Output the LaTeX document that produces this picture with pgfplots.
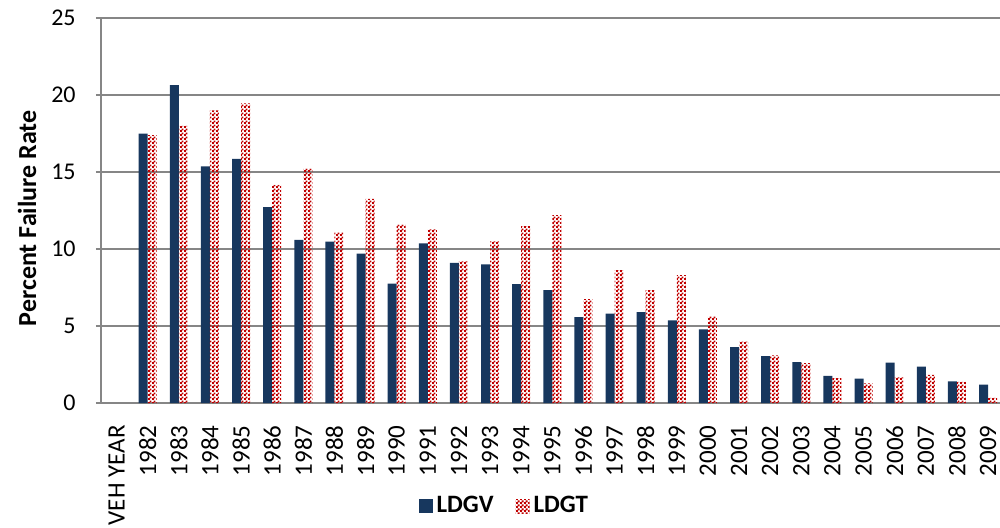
\documentclass[border=0pt]{standalone}
\usepackage{fontspec}
\setmainfont{Carlito}
\usepackage{pgfplots}
\usepackage{pgfplotstable}
\pgfplotsset{compat=1.18}
\usetikzlibrary{patterns.meta}

\definecolor{ldgvblue}{RGB}{23,55,94}
\definecolor{ldgtred}{RGB}{192,0,0}
\definecolor{axisgray}{RGB}{134,134,134}

\tikzdeclarepattern{
  name=finecheck,
  type=uncolored,
  bounding box={(0pt,0pt) and (2pt,2pt)},
  tile size={(2pt,2pt)},
  code={
    \fill (0pt,0pt) rectangle (1.1pt,1.1pt);
    \fill (1pt,1pt) rectangle (2.1pt,2.1pt);
  }
}

% failure rate by model year (x = 1 is 1982)
\pgfplotstableread{
x ldgv ldgt
1 17.50 17.40
2 20.65 18.00
3 15.37 19.00
4 15.85 19.46
5 12.72 14.17
6 10.60 15.24
7 10.48 11.09
8 9.70 13.26
9 7.76 11.60
10 10.37 11.28
11 9.10 9.20
12 9.00 10.50
13 7.72 11.48
14 7.33 12.20
15 5.57 6.74
16 5.80 8.63
17 5.90 7.33
18 5.37 8.30
19 4.78 5.65
20 3.63 3.98
21 3.04 3.09
22 2.65 2.59
23 1.76 1.61
24 1.59 1.28
25 2.63 1.67
26 2.37 1.83
27 1.41 1.37
28 1.20 0.33
}\failrates

\begin{document}
\begin{tikzpicture}
\useasboundingbox (-50.5pt,-62pt) rectangle (449.5pt,201.5pt);
\clip (-50.5pt,-62pt) rectangle (449.5pt,201.5pt);
\begin{axis}[
    scale only axis,
    width=451.3pt, height=192.5pt,
    xmin=-0.5, xmax=28.5,
    ymin=0, ymax=25,
    ybar=0pt,
    bar width=4.5pt,
    axis x line*=bottom,
    axis y line*=left,
    axis line style={axisgray, line width=0.8pt},
    ymajorgrids,
    grid style={axisgray, line width=0.8pt},
    ytick={0,5,...,25},
    xtick={0,...,28},
    xticklabels={VEH YEAR,1982,1983,1984,1985,1986,1987,1988,1989,1990,1991,1992,1993,1994,1995,1996,1997,1998,1999,2000,2001,2002,2003,2004,2005,2006,2007,2008,2009},
    x tick style={draw=none},
    y tick style={axisgray, line width=0.8pt},
    tick align=outside,
    major tick length=2.5pt,
    /pgf/number format/assume math mode=true,
    xticklabel style={rotate=90, anchor=east, inner sep=0pt, font=\fontsize{12.5}{15}\selectfont},
    xticklabel shift=8.5pt,
    yticklabel style={inner sep=0pt, font=\fontsize{12}{14}\selectfont},
    yticklabel shift=10pt,
    ylabel={Percent Failure Rate},
    ylabel style={at={(axis description cs:0,0.48)}, anchor=center, yshift=37pt,
        font=\bfseries\fontsize{13}{15}\selectfont},
    legend style={at={(axis description cs:0.448,0)}, anchor=center, yshift=-51.5pt,
        draw=none, fill=none, legend columns=2,
        font=\bfseries\fontsize{12.5}{15}\selectfont,
        /tikz/every even column/.append style={column sep=9pt}},
    legend image code/.code={\path[#1] (0pt,-3.5pt) rectangle (7pt,3.5pt);},
]
\addplot[fill=ldgvblue, draw=none] table[x=x, y=ldgv] {\failrates};
\addlegendentry{LDGV}
\addplot[pattern=finecheck, pattern color=ldgtred, draw=none] table[x=x, y=ldgt] {\failrates};
\addlegendentry{LDGT}
\end{axis}
\end{tikzpicture}
\end{document}
